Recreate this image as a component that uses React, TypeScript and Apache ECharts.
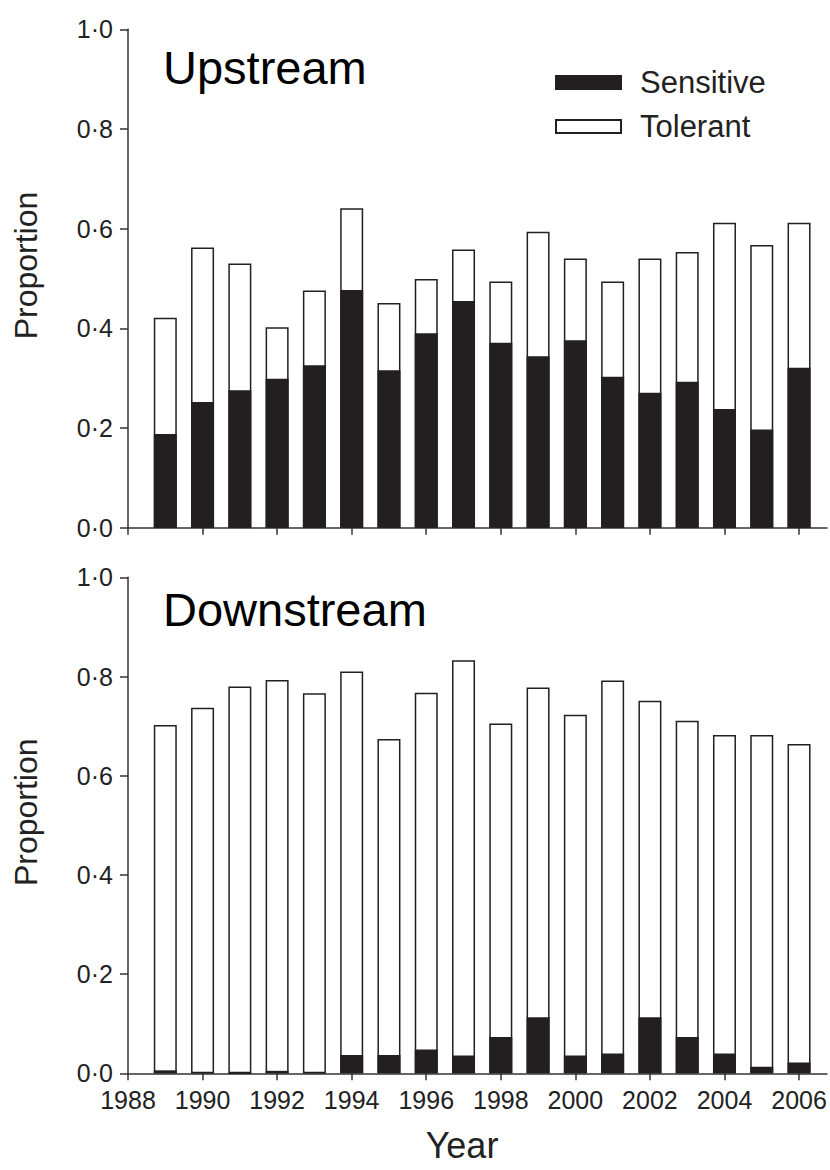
import React, { useEffect, useRef } from "react";
import * as echarts from "echarts";

const years = [1989, 1990, 1991, 1992, 1993, 1994, 1995, 1996, 1997, 1998, 1999, 2000, 2001, 2002, 2003, 2004, 2005, 2006];
const yearTicks = [1988, 1990, 1992, 1994, 1996, 1998, 2000, 2002, 2004, 2006];

// Upstream: total bar height (sensitive + tolerant) and sensitive portion
const upTotal = [0.421, 0.562, 0.530, 0.402, 0.476, 0.641, 0.451, 0.499, 0.558, 0.494, 0.594, 0.540, 0.494, 0.540, 0.553, 0.612, 0.567, 0.612];
const upSensitive = [0.188, 0.252, 0.276, 0.299, 0.326, 0.477, 0.316, 0.390, 0.455, 0.371, 0.344, 0.376, 0.303, 0.271, 0.293, 0.238, 0.197, 0.321];

// Downstream
const downTotal = [0.702, 0.737, 0.780, 0.793, 0.766, 0.810, 0.674, 0.767, 0.833, 0.705, 0.778, 0.723, 0.792, 0.751, 0.711, 0.682, 0.682, 0.664];
const downSensitive = [0.006, 0.002, 0.0, 0.005, 0.002, 0.037, 0.037, 0.048, 0.036, 0.073, 0.113, 0.036, 0.040, 0.113, 0.073, 0.040, 0.013, 0.022];

const FONT = "'Liberation Sans', Arial, sans-serif";
const INK = "#231f20";
const AXIS = "#333333";

export default function App() {
  const ref = useRef<HTMLDivElement>(null);

  useEffect(() => {
    if (!ref.current) return;
    const chart = echarts.init(ref.current, undefined, { renderer: "svg" });

    const pairs = (v: number[]) => years.map((y, i) => [y, v[i]]);

    const xAxisBase = (gridIndex: number, showLabels: boolean) => ({
      type: "value",
      gridIndex,
      min: 1988,
      max: 2006.75,
      axisLine: { show: true, onZero: false, lineStyle: { color: AXIS, width: 1.5 } },
      axisTick: { show: true, length: 7, customValues: yearTicks, lineStyle: { color: AXIS, width: 1.5 } },
      axisLabel: {
        show: showLabels,
        customValues: yearTicks,
        formatter: (v: number) => String(v),
        fontSize: 25,
        fontFamily: FONT,
        color: "#222",
        margin: 14,
      },
      splitLine: { show: false },
      ...(showLabels
        ? {
            name: "Year",
            nameLocation: "middle",
            nameGap: 54,
            nameTextStyle: { fontSize: 36, fontFamily: FONT, color: "#222", padding: [0, 31, 0, 0] },
          }
        : {}),
    });

    const yAxisBase = (gridIndex: number) => ({
      type: "value",
      gridIndex,
      min: 0,
      max: 1,
      interval: 0.2,
      axisLine: { show: true, lineStyle: { color: AXIS, width: 1.5 } },
      axisTick: { show: true, length: 8, lineStyle: { color: AXIS, width: 1.5 } },
      axisLabel: {
        formatter: (v: number) => v.toFixed(1).replace(".", "·"),
        fontSize: 25,
        fontFamily: FONT,
        color: "#222",
        margin: 15,
      },
      splitLine: { show: false },
      name: "Proportion",
      nameLocation: "middle",
      nameGap: 86,
      nameTextStyle: { fontSize: 32, fontFamily: FONT, color: "#222", padding: [0, 0, 0, 26] },
    });

    const barStyle = (fill: string) => ({ color: fill, borderColor: INK, borderWidth: 1.5 });

    chart.setOption({
      animation: false,
      backgroundColor: "#ffffff",
      grid: [
        { left: 128, width: 699, top: 29.3, height: 498.4 },
        { left: 128, width: 699, top: 577.3, height: 496 },
      ],
      xAxis: [xAxisBase(0, false), xAxisBase(1, true)],
      yAxis: [yAxisBase(0), yAxisBase(1)],
      legend: {
        data: ["Sensitive", "Tolerant"],
        orient: "vertical",
        left: 555,
        top: 67,
        padding: 0,
        icon: "rect",
        itemWidth: 65,
        itemHeight: 13,
        itemGap: 13,
        textStyle: { fontSize: 31, fontFamily: FONT, color: "#222", lineHeight: 30, padding: [0, 0, 0, 14] },
      },
      title: [
        { text: "Upstream", left: 163, top: 44, padding: 0, textStyle: { fontSize: 47, fontWeight: "normal", fontFamily: FONT, color: "#000" } },
        { text: "Downstream", left: 163, top: 586, padding: 0, textStyle: { fontSize: 47, fontWeight: "normal", fontFamily: FONT, color: "#000" } },
      ],
      series: [
        // Tolerant drawn as the full bar (sensitive + tolerant); sensitive overlays its lower part
        { name: "Tolerant", type: "bar", xAxisIndex: 0, yAxisIndex: 0, barWidth: 23, barGap: "-100%", data: pairs(upTotal), itemStyle: barStyle("#ffffff") },
        { name: "Sensitive", type: "bar", xAxisIndex: 0, yAxisIndex: 0, barWidth: 23, barGap: "-100%", data: pairs(upSensitive), itemStyle: barStyle(INK) },
        { name: "Tolerant", type: "bar", xAxisIndex: 1, yAxisIndex: 1, barWidth: 23, barGap: "-100%", data: pairs(downTotal), itemStyle: barStyle("#ffffff") },
        { name: "Sensitive", type: "bar", xAxisIndex: 1, yAxisIndex: 1, barWidth: 23, barGap: "-100%", data: pairs(downSensitive), itemStyle: barStyle(INK) },
      ],
    });

    return () => chart.dispose();
  }, []);

  return <div ref={ref} style={{ position: "fixed", left: 0, top: 0, width: 830, height: 1170, background: "#fff" }} />;
}
